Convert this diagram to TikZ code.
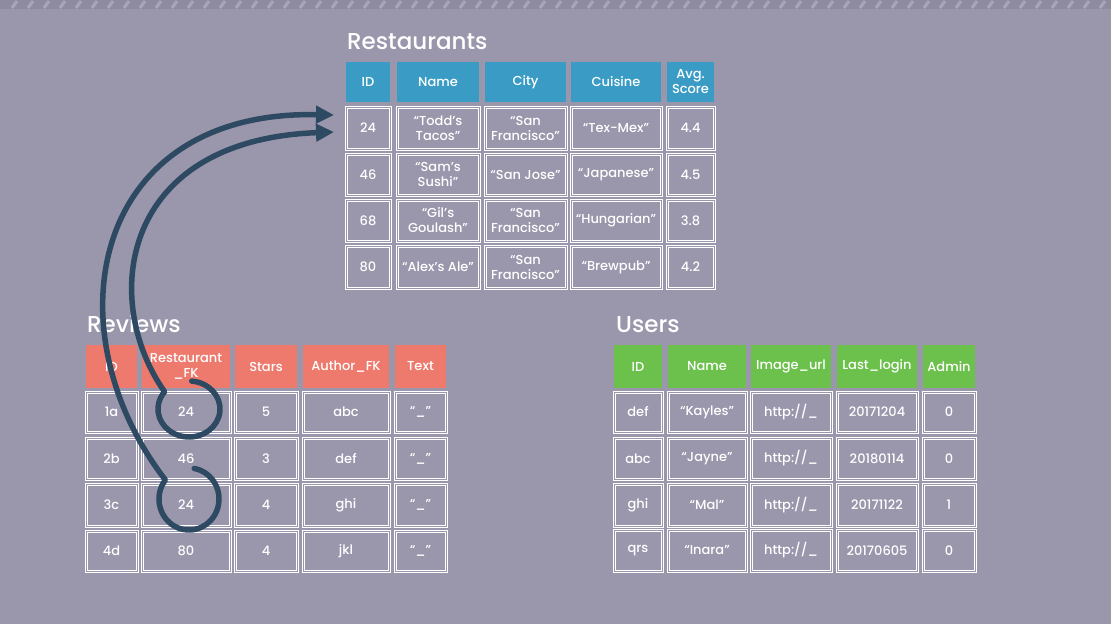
\documentclass[tikz,border=0pt]{standalone}
\usepackage{fontspec}
\setmainfont{Poppins}[UprightFont=* Medium]
\usetikzlibrary{arrows.meta,calc}
\definecolor{bgc}{HTML}{9A96AC}
\definecolor{bluehd}{HTML}{3A9CC4}
\definecolor{redhd}{HTML}{EE7A6E}
\definecolor{greenhd}{HTML}{6CC04C}
\definecolor{navy}{HTML}{2E4A62}
\definecolor{band}{HTML}{8E8BA1}
\definecolor{dashc}{HTML}{A9A6BA}
\newcommand\myhttp{http:/\kern0pt/\_}
\newcommand\mkrow[5]{%
  \foreach \xl/\xr/\t [count=\i] in {#5} {
    \node[#4, minimum width={(\xr-\xl)*1pt}, minimum height={(#3-#2)*1pt}] (#1-\i) at ({(\xl+\xr)/2},{(#2+#3)/2}) {\t};
  }%
}
\begin{document}
\begin{tikzpicture}[x=1pt,y=-1pt,
  hd/.style={fill=#1, text=white, inner sep=0pt, align=center, font=\fontsize{13}{15}\selectfont},
  dc/.style={draw=white, double=bgc, double distance=0.8pt, line width=1.1pt, text=white, inner sep=0pt, align=center, font=\fontsize{13}{15}\selectfont},
  ttl/.style={text=white, anchor=base west, inner sep=0pt, font=\fontsize{23}{26}\selectfont},
  link/.style={draw=navy, line width=5.5pt, line cap=round, line join=round, -{Triangle[length=18pt,width=17pt]}}
]
\fill[bgc] (0,0) rectangle (1111,624);
\useasboundingbox (0,0) rectangle (1111,624);
\fill[band] (0,0) rectangle (1111,9);
\foreach \x in {12,28,...,1100} \draw[dashc, line width=3pt] (\x,8) -- (\x+5,1);

% Restaurants
\node[ttl] (tR) at (347,49) {Restaurants};
\mkrow{rh}{62}{102}{hd=bluehd}{346/390/ID, 397/479/Name, 485/566/City, 571/661/Cuisine, 667/714/Avg.\\Score}
\mkrow{r1}{107}{149}{dc}{346/390/24, 397/479/“Todd’s\\Tacos”, 485/566/“San\\Francisco”, 571/661/“Tex-Mex”, 667/714/4.4}
\mkrow{r2}{154}{195}{dc}{346/390/46, 397/479/“Sam’s\\Sushi”, 485/566/“San Jose”, 571/661/“Japanese”, 667/714/4.5}
\mkrow{r3}{200}{241}{dc}{346/390/68, 397/479/“Gil’s\\Goulash”, 485/566/“San\\Francisco”, 571/661/“Hungarian”, 667/714/3.8}
\mkrow{r4}{246}{288}{dc}{346/390/80, 397/479/“Alex’s Ale”, 485/566/“San\\Francisco”, 571/661/“Brewpub”, 667/714/4.2}

% Reviews
\node[ttl] (tV) at (87,332) {Reviews};
\mkrow{vh}{345}{388}{hd=redhd}{86/137/ID, 142/230/Restaurant\\\_FK, 235/297/Stars, 303/389/Author\_FK, 395/446/Text}
\mkrow{v1}{392}{432}{dc}{86/137/1a, 142/230/24, 235/297/5, 303/389/abc, 395/446/“\_”}
\mkrow{v2}{438}{479}{dc}{86/137/2b, 142/230/46, 235/297/3, 303/389/def, 395/446/“\_”}
\mkrow{v3}{484}{526}{dc}{86/137/3c, 142/230/24, 235/297/4, 303/389/ghi, 395/446/“\_”}
\mkrow{v4}{531}{571}{dc}{86/137/4d, 142/230/80, 235/297/4, 303/389/jkl, 395/446/“\_”}

% Users
\node[ttl] (tU) at (616,332) {Users};
\mkrow{uh}{345}{388}{hd=greenhd}{614/662/ID, 668/746/Name, 751/831/Image\_url, 837/917/Last\_login, 923/975/Admin}
\mkrow{u1}{392}{432}{dc}{614/662/def, 668/746/“Kayles”, 751/831/\myhttp, 837/917/20171204, 923/975/0}
\mkrow{u2}{438}{479}{dc}{614/662/abc, 668/746/“Jayne”, 751/831/\myhttp, 837/917/20180114, 923/975/0}
\mkrow{u3}{484}{526}{dc}{614/662/ghi, 668/746/“Mal”, 751/831/\myhttp, 837/917/20171122, 923/975/1}
\mkrow{u4}{530}{571}{dc}{614/662/qrs, 668/746/“Inara”, 751/831/\myhttp, 837/917/20170605, 923/975/0}

% foreign-key arrows (arc angles in page convention: 90 = up)
\path (v1-2.center) ++(3,-3) coordinate (c1);
\path (v3-2.center) ++(3,-6) coordinate (c2);
\coordinate (tipA) at (334,115);
\coordinate (tipB) at (334,132);
\draw[link] ($(c2)+(80:30pt and 31pt)$) arc[start angle=80,end angle=-218,x radius=30pt,y radius=31pt]
  .. controls (50,330) and (90,110) .. (tipA);
\draw[link] ($(c1)+(85:31pt and 28pt)$) arc[start angle=85,end angle=-218,x radius=31pt,y radius=28pt]
  .. controls (100,300) and (120,140) .. (tipB);
\end{tikzpicture}
\end{document}
